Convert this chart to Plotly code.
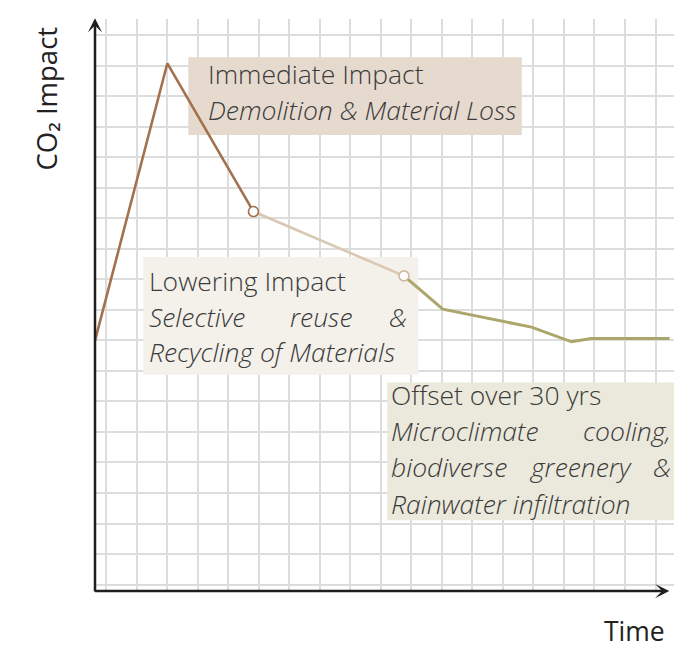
import plotly.graph_objects as go

# Curve of CO2 impact over time (one grid square = one unit)
time = [0.0, 2.37, 5.19, 10.12, 11.39, 14.30, 15.61, 16.25, 18.82]
impact = [8.21, 17.30, 12.44, 10.33, 9.24, 8.65, 8.17, 8.28, 8.28]

# Phases of the curve: start/end index into the arrays above
phase_start = [0, 2, 3]
phase_end = [2, 3, 8]
phase_colors = ["#a3714e", "#d9c8b3", "#aba66b"]
phase_widths = [2.6, 2.6, 3.0]

# Transition points marked with hollow circles
marker_idx = [2, 3]
marker_colors = ["#a3714e", "#cdbb9f"]

X_RANGE = [0, 18.965]
Y_RANGE = [0, 18.752]

FONT = "Open Sans"
TEXT_COLOR = "#3b3b3b"
TEXT_SIZE = 26.5

fig = go.Figure()

for s, e, c, w in zip(phase_start, phase_end, phase_colors, phase_widths):
    fig.add_trace(go.Scatter(
        x=time[s:e + 1], y=impact[s:e + 1], mode="lines",
        line=dict(color=c, width=w), hoverinfo="skip", showlegend=False,
    ))

fig.add_trace(go.Scatter(
    x=[time[i] for i in marker_idx], y=[impact[i] for i in marker_idx],
    mode="markers",
    marker=dict(size=10, color="white", line=dict(color=marker_colors, width=1.6)),
    hoverinfo="skip", showlegend=False,
))

# Label boxes: [x0, x1, y0, y1], fill, left edge, right edge, lines
boxes = [
    dict(rect=[3.056, 13.98, 14.95, 17.50], fill="#e6dacf", left=3.62, right=13.7,
         lines=[("Immediate Impact", False, 16.94),
                ("Demolition & Material Loss", True, 15.77)]),
    dict(rect=[1.582, 10.59, 7.09, 10.95], fill="#f4f0ea", left=1.69, right=10.29,
         lines=[("Lowering Impact", False, 10.17),
                (["Selective", "reuse", "&"], True, 8.99, [7.41]),
                ("Recycling of Materials", True, 7.83)]),
    dict(rect=[9.574, 19.2, 2.319, 6.839], fill="#ebe8dc", left=9.63, right=18.93,
         lines=[("Offset over 30 yrs", False, 6.44),
                (["Microclimate", "cooling,"], True, 5.26, []),
                (["biodiverse", "greenery", "&"], True, 4.06, [15.90]),
                ("Rainwater infiltration", True, 2.84)]),
]

annotations = []
shapes = []


def text_ann(txt, x, y, italic, anchor):
    return dict(
        x=x, y=y, xref="x", yref="y", text=txt, showarrow=False,
        xanchor=anchor, yanchor="middle",
        font=dict(family=FONT, size=TEXT_SIZE, color=TEXT_COLOR, weight=300,
                  style="italic" if italic else "normal"),
    )


for b in boxes:
    x0, x1, y0, y1 = b["rect"]
    shapes.append(dict(type="rect", xref="x", yref="y", x0=x0, x1=x1, y0=y0, y1=y1,
                       fillcolor=b["fill"], line=dict(width=0), layer="between"))
    for line in b["lines"]:
        if isinstance(line[0], str):
            txt, italic, y = line
            annotations.append(text_ann(txt, b["left"], y, italic, "left"))
        else:
            words, italic, y, mids = line
            annotations.append(text_ann(words[0], b["left"], y, italic, "left"))
            for w, m in zip(words[1:-1], mids):
                annotations.append(text_ann(w, m, y, italic, "center"))
            annotations.append(text_ann(words[-1], b["right"], y, italic, "right"))

# Axes drawn as arrows
AXIS_COLOR = "#1f1f1f"
arrow_style = dict(text="", showarrow=True, arrowhead=3, arrowsize=0.95,
                   arrowwidth=2.5, arrowcolor=AXIS_COLOR)
# vertical (CO2 impact) axis: tip just above the plot area, tail in pixels below
annotations.append(dict(x=0, y=1.0012, xref="paper", yref="paper",
                        ax=0, ay=574.7, **arrow_style))
# horizontal (time) axis
annotations.append(dict(x=18.81, y=0, ax=-0.05, ay=0, xref="x", yref="y",
                        axref="x", ayref="y", **arrow_style))

# Axis titles
annotations.append(dict(
    x=-0.0829, y=0.861, xref="paper", yref="paper", text="CO₂ Impact", textangle=-90,
    showarrow=False, xanchor="center", yanchor="middle",
    font=dict(family=FONT, size=27.5, color="#222222", weight=400),
))
annotations.append(dict(
    x=0.932, y=0, xref="paper", yref="paper", yshift=-40, text="Time",
    showarrow=False, xanchor="center", yanchor="middle",
    borderpad=0, borderwidth=0,
    font=dict(family=FONT, size=26.5, color="#222222", weight=400),
))

grid = dict(showgrid=True, gridcolor="#dddddd", gridwidth=1.5, dtick=1,
            showticklabels=False, ticks="", zeroline=False, showline=False,
            fixedrange=True)

fig.update_layout(
    width=674, height=650,
    margin=dict(l=95, r=0, t=19, b=58.5, pad=0),
    paper_bgcolor="white", plot_bgcolor="white",
    xaxis=dict(range=X_RANGE, tick0=0.36, **grid),
    yaxis=dict(range=Y_RANGE, tick0=0.213, **grid),
    shapes=shapes, annotations=annotations,
    hovermode=False,
)

fig.write_html("out.html")
